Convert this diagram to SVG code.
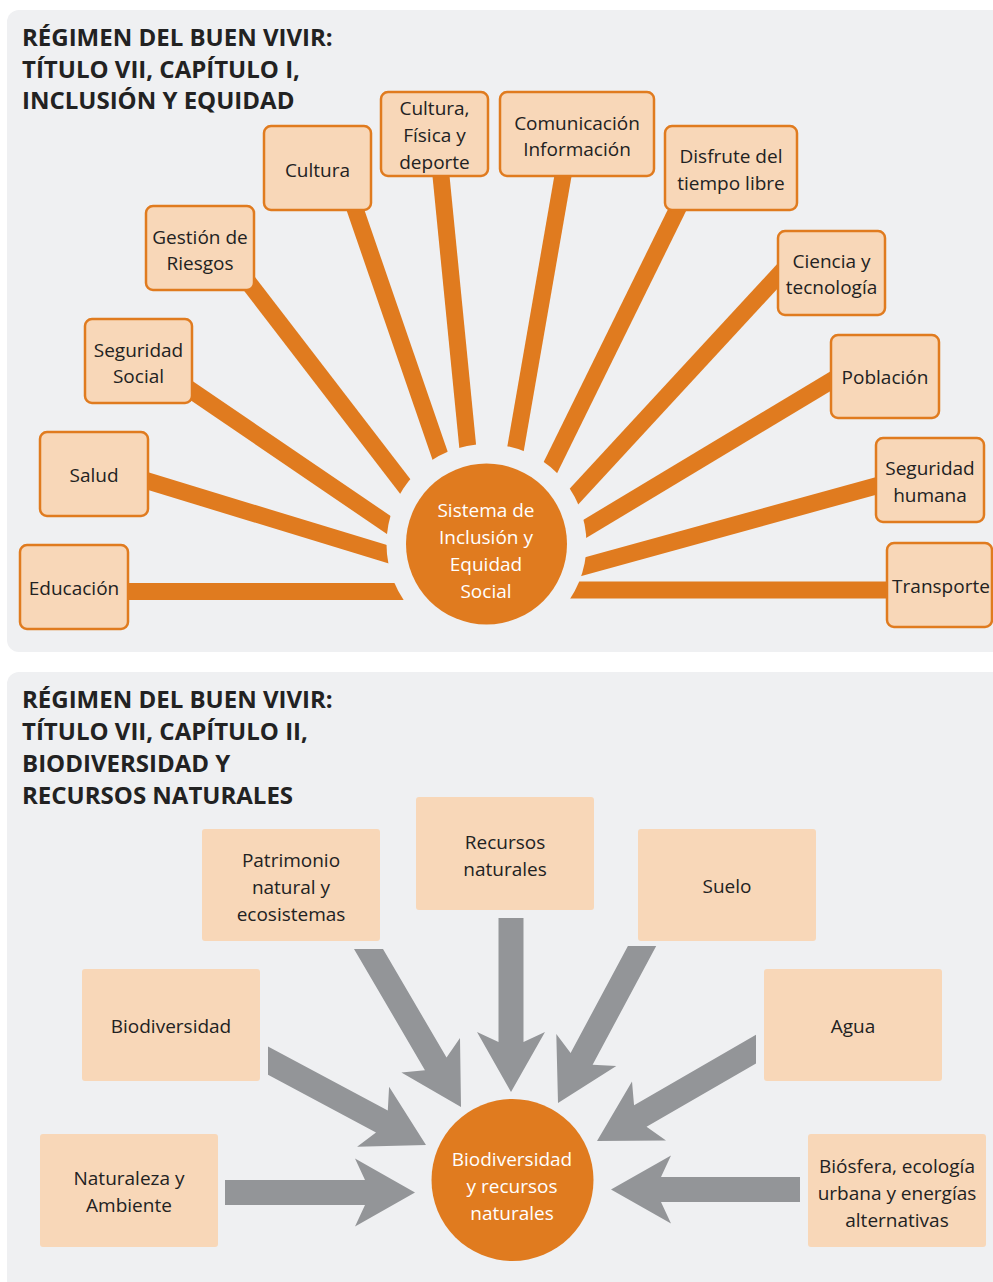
<svg xmlns="http://www.w3.org/2000/svg" width="993" height="1282" viewBox="0 0 993 1282">
<style>
.panel{fill:#eff0f2}
.title{font-family:"Open Sans","Noto Sans",sans-serif;font-weight:bold;font-size:24px;fill:#222222}
.box{fill:#f8d7b8;stroke:#e07b1f;stroke-width:2.5}
.pbox{fill:#f8d7b8}
.lbl{font-family:"Open Sans","Noto Sans",sans-serif;font-weight:500;font-size:19px;fill:#222222;text-anchor:middle}
.wlbl{font-family:"Open Sans","Noto Sans",sans-serif;font-weight:500;font-size:19px;fill:#ffffff;text-anchor:middle}
.spoke{stroke:#e07b1f;stroke-width:17;fill:none}
.arrow{fill:#939598}
.hub{fill:#e07b1f}
</style>
<rect width="993" height="1282" fill="#ffffff"/>
<rect class="panel" x="7" y="10" width="1000" height="642" rx="12"/>
<rect class="panel" x="7" y="672" width="1000" height="620" rx="12"/>

<g id="title1">
<text class="title" x="22" y="46">RÉGIMEN DEL BUEN VIVIR:</text>
<text class="title" x="22" y="78">TÍTULO VII, CAPÍTULO I,</text>
<text class="title" x="22" y="109">INCLUSIÓN Y EQUIDAD</text>
</g>

<g id="connectors-top">
<line class="spoke" x1="120" y1="591.5" x2="470" y2="591.5"/>
<line class="spoke" x1="140" y1="478.7" x2="433" y2="568"/>
<line class="spoke" x1="184" y1="385.5" x2="424" y2="549"/>
<line class="spoke" x1="245" y1="278" x2="431" y2="520"/>
<line class="spoke" x1="352" y1="200" x2="455" y2="499"/>
<line class="spoke" x1="441" y1="176" x2="472" y2="490"/>
<line class="spoke" x1="564" y1="170" x2="508" y2="492"/>
<line class="spoke" x1="682" y1="200" x2="531" y2="507"/>
<line class="spoke" x1="785" y1="268" x2="544" y2="529"/>
<line class="spoke" x1="840" y1="375.5" x2="548" y2="551"/>
<line class="spoke" x1="885" y1="483.5" x2="542" y2="578"/>
<line class="spoke" x1="895" y1="590" x2="520" y2="590"/>
<circle class="panel" cx="486.5" cy="544" r="100"/>
</g>

<g id="hub-top">
<circle class="hub" cx="486.5" cy="544" r="80.5"/>
<text class="wlbl" x="486" y="517">Sistema de</text>
<text class="wlbl" x="486" y="544">Inclusión y</text>
<text class="wlbl" x="486" y="571">Equidad</text>
<text class="wlbl" x="486" y="598">Social</text>
</g>

<g id="n-educacion"><rect class="box" x="20" y="545" width="108" height="84" rx="7"/><text class="lbl" x="74" y="595">Educación</text></g>
<g id="n-salud"><rect class="box" x="40" y="432" width="108" height="84" rx="7"/><text class="lbl" x="94" y="482">Salud</text></g>
<g id="n-segsocial"><rect class="box" x="85" y="319" width="107" height="84" rx="7"/><text class="lbl" x="138.5" y="357">Seguridad</text><text class="lbl" x="138.5" y="383">Social</text></g>
<g id="n-gestion"><rect class="box" x="146" y="206" width="108" height="84" rx="7"/><text class="lbl" x="200" y="244">Gestión de</text><text class="lbl" x="200" y="270">Riesgos</text></g>
<g id="n-cultura"><rect class="box" x="264" y="126" width="107" height="84" rx="7"/><text class="lbl" x="317.5" y="177">Cultura</text></g>
<g id="n-cultfis"><rect class="box" x="381" y="92" width="107" height="84" rx="7"/><text class="lbl" x="434.5" y="115">Cultura,</text><text class="lbl" x="434.5" y="142">Física y</text><text class="lbl" x="434.5" y="169">deporte</text></g>
<g id="n-comunic"><rect class="box" x="500" y="92" width="154" height="84" rx="7"/><text class="lbl" x="577" y="130">Comunicación</text><text class="lbl" x="577" y="156">Información</text></g>
<g id="n-disfrute"><rect class="box" x="665" y="126" width="132" height="84" rx="7"/><text class="lbl" x="731" y="163">Disfrute del</text><text class="lbl" x="731" y="190">tiempo libre</text></g>
<g id="n-ciencia"><rect class="box" x="778" y="231" width="107" height="84" rx="7"/><text class="lbl" x="831.5" y="268">Ciencia y</text><text class="lbl" x="831.5" y="294">tecnología</text></g>
<g id="n-poblacion"><rect class="box" x="831" y="335" width="108" height="83" rx="7"/><text class="lbl" x="885" y="384">Población</text></g>
<g id="n-seghum"><rect class="box" x="876" y="438" width="108" height="84" rx="7"/><text class="lbl" x="930" y="475">Seguridad</text><text class="lbl" x="930" y="502">humana</text></g>
<g id="n-transporte"><rect class="box" x="887" y="543" width="105" height="84" rx="7"/><text class="lbl" x="941" y="593">Transporte</text></g>

<g id="title2">
<text class="title" x="22" y="708">RÉGIMEN DEL BUEN VIVIR:</text>
<text class="title" x="22" y="740">TÍTULO VII, CAPÍTULO II,</text>
<text class="title" x="22" y="772">BIODIVERSIDAD Y</text>
<text class="title" x="22" y="804">RECURSOS NATURALES</text>
</g>

<g id="connectors-bottom">
<polygon class="arrow" points="511,1092 477,1032 498.5,1042 498.5,918 523.5,918 523.5,1042 545,1032"/>
<polygon class="arrow" points="415,1192.5 355,1226.5 365,1205 225,1205 225,1180 365,1180 355,1158.5"/>
<polygon class="arrow" points="611,1189.5 671,1155.5 661,1177 800,1177 800,1202 661,1202 671,1223.5"/>
<polygon class="arrow" points="426,1145 357.1,1146.7 376,1132.4 268,1074.8 268,1046.5 387.8,1110.4 389.1,1086.7"/>
<polygon class="arrow" points="597,1141 632,1081.6 634.05,1105.2 756,1034.8 756,1063.6 646.55,1126.8 666,1140.4"/>
<polygon class="arrow" points="461,1107 401.4,1072.4 424.95,1070.15 354,949 383,949 446.55,1057.55 460,1038"/>
<polygon class="arrow" points="558,1103 556.3,1034.1 570.6,1053 627.9,946 656.2,946 592.6,1064.8 616.3,1066.1"/>
</g>

<g id="hub-bottom">
<circle class="hub" cx="512.5" cy="1180" r="81"/>
<text class="wlbl" x="512" y="1166">Biodiversidad</text>
<text class="wlbl" x="512" y="1193">y recursos</text>
<text class="wlbl" x="512" y="1220">naturales</text>
</g>

<g id="n-patrimonio"><rect class="pbox" x="202" y="829" width="178" height="112" rx="3"/><text class="lbl" x="291" y="867">Patrimonio</text><text class="lbl" x="291" y="894">natural y</text><text class="lbl" x="291" y="921">ecosistemas</text></g>
<g id="n-recursos"><rect class="pbox" x="416" y="797" width="178" height="113" rx="3"/><text class="lbl" x="505" y="849">Recursos</text><text class="lbl" x="505" y="876">naturales</text></g>
<g id="n-suelo"><rect class="pbox" x="638" y="829" width="178" height="112" rx="3"/><text class="lbl" x="727" y="893">Suelo</text></g>
<g id="n-biodiv"><rect class="pbox" x="82" y="969" width="178" height="112" rx="3"/><text class="lbl" x="171" y="1033">Biodiversidad</text></g>
<g id="n-agua"><rect class="pbox" x="764" y="969" width="178" height="112" rx="3"/><text class="lbl" x="853" y="1033">Agua</text></g>
<g id="n-naturaleza"><rect class="pbox" x="40" y="1134" width="178" height="113" rx="3"/><text class="lbl" x="129" y="1185">Naturaleza y</text><text class="lbl" x="129" y="1212">Ambiente</text></g>
<g id="n-biosfera"><rect class="pbox" x="808" y="1134" width="178" height="113" rx="3"/><text class="lbl" x="897" y="1173">Biósfera, ecología</text><text class="lbl" x="897" y="1200">urbana y energías</text><text class="lbl" x="897" y="1227">alternativas</text></g>
</svg>
